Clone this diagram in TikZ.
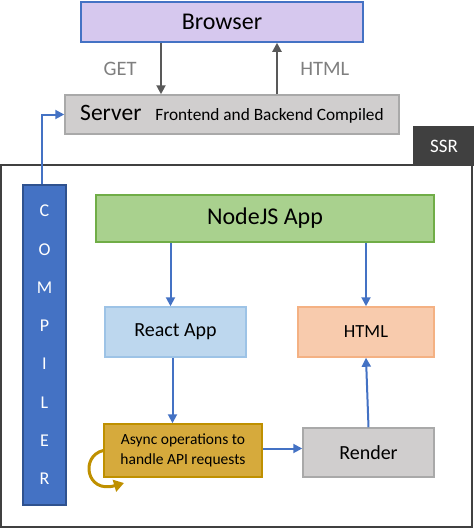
\documentclass[tikz,border=0pt]{standalone}
\usepackage{fontspec}
\setmainfont{Carlito}
\usetikzlibrary{arrows.meta}

\definecolor{browserfill}{HTML}{D6C8EE}
\definecolor{flowblue}{HTML}{4472C4}
\definecolor{compilerline}{HTML}{2F528F}
\definecolor{serverfill}{HTML}{D0CECE}
\definecolor{serverline}{HTML}{A9A9A9}
\definecolor{ssrfill}{HTML}{404040}
\definecolor{nodefill}{HTML}{A9D18E}
\definecolor{nodeline}{HTML}{70AD47}
\definecolor{reactfill}{HTML}{BDD7EE}
\definecolor{reactline}{HTML}{9DC3E6}
\definecolor{htmlfill}{HTML}{F8CBAD}
\definecolor{htmlline}{HTML}{F4B183}
\definecolor{asyncfill}{HTML}{D6AA3C}
\definecolor{asyncline}{HTML}{BF9000}
\definecolor{labelgray}{HTML}{7F7F7F}
\definecolor{arrowgray}{HTML}{595959}

\tikzset{
  box/.style={draw, line width=1.5pt, inner sep=0pt, align=center},
  flow/.style={-{Triangle[length=9pt,width=9pt]}, line width=2pt, flowblue},
  reply/.style={-{Triangle[length=9pt,width=9pt]}, line width=2pt, arrowgray},
  fsize/.style={font=\fontsize{#1}{#1}\selectfont}
}

\begin{document}
\begin{tikzpicture}[x=1pt,y=-1pt]
    \useasboundingbox (0,0) rectangle (474,528);
    % Draw the client side
    \node[box, fill=browserfill, draw=flowblue, minimum width=282pt, minimum height=40pt, fsize=24] (browser) at (222,22) {Browser};
    \node[box, fill=serverfill, draw=serverline, minimum width=334pt, minimum height=39pt] (server) at (232,114.5)
        {{\fontsize{23.5}{23.5}\selectfont Server}\hspace{14pt}{\fontsize{17.3}{17.3}\selectfont Frontend and Backend Compiled}};
    \draw[reply] ([xshift=-61pt]browser.south) -- ([xshift=-61pt]browser.south |- server.north) node[midway, left=20pt, labelgray, fsize=20.5] (get) {GET};
    \draw[reply] ([xshift=55pt]browser.south |- server.north) -- ([xshift=55pt]browser.south) node[midway, right=19pt, labelgray, fsize=20.5] (html-label) {HTML};
    % Draw the SSR frame
    \node[box, fill=ssrfill, draw=ssrfill, text=white, minimum width=60pt, minimum height=38pt, fsize=19] (ssr) at (444,146) {SSR};
    \draw[line width=2pt, ssrfill] (1,165) rectangle (472,527);
    \node[box, fill=flowblue, draw=compilerline, text=white, minimum width=43pt, minimum height=320pt, font=\fontsize{18}{38.3}\selectfont] (compiler) at (44.5,345)
        {C\\O\\M\\P\\I\\L\\E\\R};
    \draw[flow] ([xshift=-3pt]compiler.north) |- (server.west);
    % Draw the app boxes
    \node[box, fill=nodefill, draw=nodeline, minimum width=338pt, minimum height=47pt, fsize=24] (nodejs) at (265,218.5) {NodeJS App};
    \node[box, fill=reactfill, draw=reactline, minimum width=141pt, minimum height=50pt, fsize=20] (react) at (175.5,332) {React App};
    \node[box, fill=htmlfill, draw=htmlline, minimum width=136pt, minimum height=50pt, fsize=18.5] (html) at (366,332) {HTML};
    \node[box, fill=asyncfill, draw=asyncline, minimum width=158pt, minimum height=53pt, font=\fontsize{15.5}{20}\selectfont] (async) at (183,450.5) {Async operations to\\handle API requests};
    \node[box, fill=serverfill, draw=serverline, minimum width=131pt, minimum height=49pt, fsize=20] (render) at (368.5,452.5) {Render};
    % Add the flow arrows
    \draw[flow] ([xshift=-5pt]react.north |- nodejs.south) -- ([xshift=-5pt]react.north);
    \draw[flow] (html.north |- nodejs.south) -- (html.north);
    \draw[flow] ([xshift=-3pt]react.south) -- ([xshift=-3pt]react.south |- async.north);
    \draw[flow] ([yshift=2pt]async.east) -- ([yshift=2pt]async.east -| render.west);
    \draw[flow] (render.north) -- (html.south);
    \draw[-{Triangle[length=10pt,width=12pt]}, line width=3pt, asyncline] ([yshift=0pt]async.west) .. controls (80,456) and (86,494) .. (124,483);
\end{tikzpicture}
\end{document}
